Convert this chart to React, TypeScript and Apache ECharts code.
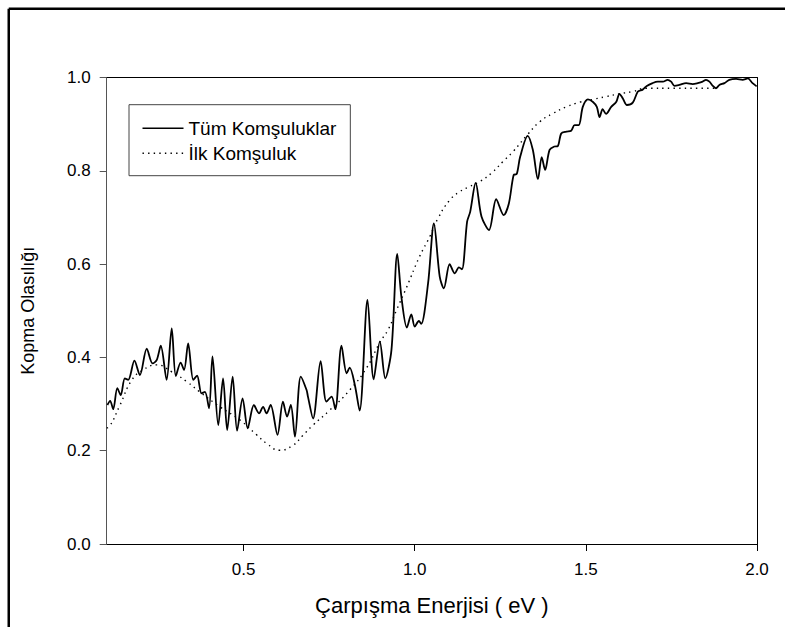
import React, { useEffect, useRef } from "react";
import * as echarts from "echarts";

const xTicks = [0.5, 1.0, 1.5, 2.0];
const yTicks = [0, 0.2, 0.4, 0.6, 0.8, 1.0];

const tumKomsuluklar: [number, number][] = [
  [0.102, 0.298], [0.110, 0.307], [0.119, 0.289], [0.131, 0.334], [0.141, 0.319],
  [0.153, 0.355], [0.163, 0.352], [0.181, 0.393], [0.197, 0.362], [0.217, 0.419],
  [0.234, 0.387], [0.246, 0.394], [0.258, 0.425], [0.275, 0.352], [0.290, 0.462],
  [0.302, 0.360], [0.316, 0.389], [0.326, 0.373], [0.338, 0.430], [0.353, 0.352],
  [0.364, 0.361], [0.377, 0.323], [0.387, 0.326], [0.399, 0.291], [0.409, 0.402],
  [0.426, 0.255], [0.440, 0.355], [0.452, 0.244], [0.468, 0.359], [0.481, 0.243],
  [0.497, 0.312], [0.512, 0.248], [0.530, 0.298], [0.545, 0.280], [0.557, 0.294],
  [0.567, 0.280], [0.579, 0.298], [0.599, 0.234], [0.615, 0.305], [0.627, 0.273],
  [0.638, 0.298], [0.650, 0.230], [0.667, 0.359], [0.684, 0.330], [0.688, 0.316],
  [0.703, 0.269], [0.725, 0.392], [0.742, 0.305], [0.757, 0.316], [0.768, 0.289],
  [0.786, 0.425], [0.801, 0.366], [0.810, 0.378], [0.825, 0.341], [0.839, 0.286],
  [0.862, 0.523], [0.880, 0.353], [0.898, 0.434], [0.914, 0.355], [0.932, 0.416],
  [0.949, 0.622], [0.961, 0.530], [0.977, 0.464], [0.990, 0.492], [1.000, 0.466],
  [1.012, 0.478], [1.019, 0.472], [1.039, 0.559], [1.056, 0.687], [1.073, 0.573],
  [1.085, 0.548], [1.102, 0.600], [1.117, 0.580], [1.129, 0.593], [1.138, 0.589],
  [1.153, 0.691], [1.162, 0.712], [1.178, 0.774], [1.195, 0.702], [1.217, 0.673],
  [1.238, 0.739], [1.260, 0.705], [1.275, 0.730], [1.289, 0.791], [1.298, 0.793],
  [1.308, 0.830], [1.330, 0.875], [1.345, 0.845], [1.360, 0.782], [1.371, 0.829],
  [1.381, 0.802], [1.394, 0.845], [1.408, 0.852], [1.418, 0.853], [1.428, 0.880],
  [1.443, 0.884], [1.457, 0.886], [1.467, 0.898], [1.479, 0.898], [1.491, 0.937],
  [1.506, 0.953], [1.520, 0.948], [1.532, 0.937], [1.540, 0.915], [1.549, 0.932],
  [1.559, 0.922], [1.574, 0.937], [1.589, 0.948], [1.598, 0.965], [1.608, 0.955],
  [1.620, 0.941], [1.637, 0.946], [1.652, 0.970], [1.666, 0.974], [1.678, 0.982],
  [1.695, 0.988], [1.710, 0.991], [1.725, 0.991], [1.739, 0.995], [1.749, 0.991],
  [1.759, 0.982], [1.773, 0.984], [1.793, 0.988], [1.812, 0.986], [1.827, 0.988],
  [1.841, 0.991], [1.851, 0.995], [1.861, 0.991], [1.871, 0.982], [1.880, 0.977],
  [1.890, 0.984], [1.905, 0.988], [1.919, 0.995], [1.939, 0.997], [1.958, 0.995],
  [1.973, 0.998], [1.987, 0.988], [1.999, 0.981],
];

const ilkKomsuluk: [number, number][] = [
  [0.100, 0.249], [0.107, 0.251], [0.139, 0.298], [0.173, 0.351], [0.206, 0.373],
  [0.246, 0.384], [0.290, 0.369], [0.334, 0.348], [0.372, 0.326], [0.431, 0.294],
  [0.489, 0.266], [0.538, 0.234], [0.567, 0.216], [0.605, 0.201], [0.645, 0.212],
  [0.672, 0.232], [0.703, 0.255], [0.752, 0.287], [0.810, 0.330], [0.859, 0.377],
  [0.898, 0.432], [0.922, 0.459], [0.946, 0.500], [0.976, 0.550], [1.014, 0.616],
  [1.044, 0.659], [1.068, 0.698], [1.102, 0.737], [1.131, 0.755], [1.160, 0.766],
  [1.190, 0.777], [1.224, 0.795], [1.258, 0.820], [1.287, 0.841], [1.330, 0.878],
  [1.365, 0.905], [1.404, 0.923], [1.443, 0.937], [1.482, 0.947], [1.520, 0.953],
  [1.559, 0.959], [1.598, 0.965], [1.637, 0.970], [1.676, 0.977], [1.754, 0.977],
  [1.880, 0.977],
];

const seriesNames = ["Tüm Komşuluklar", "İlk Komşuluk"];
const xTitle = "Çarpışma Enerjisi ( eV )";
const yTitle = "Kopma Olasılığı";

const FONT = "'Liberation Sans', Arial, sans-serif";

export default function App() {
  const ref = useRef<HTMLDivElement>(null);
  useEffect(() => {
    if (!ref.current) return;
    const chart = echarts.init(ref.current, null, { renderer: "svg" });
    const dotted = [1.4, 4.2];
    chart.setOption({
      animation: false,
      backgroundColor: "#fff",
      textStyle: { fontFamily: FONT },
      grid: { left: 106.7, top: 77.5, right: 28, bottom: 83 },
      legend: {
        orient: "vertical",
        left: 129,
        top: 104.7,
        padding: [14, 14, 13, 12.7],
        itemWidth: 41,
        itemHeight: 14,
        itemGap: 6,
        borderColor: "#444",
        borderWidth: 1,
        borderRadius: 0,
        backgroundColor: "#fff",
        itemStyle: { opacity: 0 },
        textStyle: { fontFamily: FONT, fontSize: 19, color: "#000", lineHeight: 18 },
        data: [
          { name: seriesNames[0], itemStyle: { opacity: 0 }, lineStyle: { width: 1.6, color: "#000" } },
          { name: seriesNames[1], itemStyle: { opacity: 0 }, lineStyle: { width: 1.4, color: "#000", type: dotted } },
        ],
      },
      xAxis: [
        {
          type: "value",
          min: 0.1,
          max: 2.0,
          position: "bottom",
          name: xTitle,
          nameLocation: "middle",
          nameGap: 50,
          nameTextStyle: { fontFamily: FONT, fontSize: 22, color: "#000" },
          axisLine: { show: true, onZero: false, lineStyle: { color: "#000", width: 1 } },
          axisTick: { show: true, inside: false, length: 7, customValues: xTicks, lineStyle: { color: "#000" } },
          axisLabel: {
            show: true,
            margin: 17,
            customValues: xTicks,
            formatter: (v: number) => v.toFixed(1),
            fontFamily: FONT,
            fontSize: 17,
            color: "#000",
          },
          splitLine: { show: false },
        },
        {
          type: "value",
          min: 0.1,
          max: 2.0,
          position: "top",
          axisLine: { show: true, onZero: false, lineStyle: { color: "#000", width: 1 } },
          axisTick: { show: false },
          axisLabel: { show: false },
          splitLine: { show: false },
        },
      ],
      yAxis: [
        {
          type: "value",
          min: 0,
          max: 1.0,
          interval: 0.2,
          position: "left",
          name: yTitle,
          nameLocation: "middle",
          nameGap: 70,
          nameTextStyle: { fontFamily: FONT, fontSize: 18, color: "#000" },
          axisLine: { show: true, onZero: false, lineStyle: { color: "#555", width: 1 } },
          axisTick: { show: true, inside: false, length: 7, lineStyle: { color: "#555" } },
          axisLabel: {
            show: true,
            margin: 16,
            formatter: (v: number) => v.toFixed(1),
            fontFamily: FONT,
            fontSize: 17,
            color: "#000",
          },
          splitLine: { show: false },
        },
        {
          type: "value",
          min: 0,
          max: 1.0,
          position: "right",
          axisLine: { show: true, onZero: false, lineStyle: { color: "#000", width: 1 } },
          axisTick: { show: false },
          axisLabel: { show: false },
          splitLine: { show: false },
        },
      ],
      graphic: [
        { type: "line", shape: { x1: 8.75, y1: 8.75, x2: 790, y2: 8.75 }, style: { stroke: "#000", lineWidth: 2.5 } },
        { type: "line", shape: { x1: 8.75, y1: 8.75, x2: 8.75, y2: 630 }, style: { stroke: "#000", lineWidth: 2.5 } },
      ],
      series: [
        {
          name: seriesNames[0],
          type: "line",
          data: tumKomsuluklar,
          showSymbol: false,
          symbol: "none",
          smooth: 0.3,
          lineStyle: { color: "#000", width: 1.8 },
          itemStyle: { color: "#000" },
          z: 3,
        },
        {
          name: seriesNames[1],
          type: "line",
          data: ilkKomsuluk,
          showSymbol: false,
          symbol: "none",
          smooth: 0.5,
          lineStyle: { color: "#000", width: 1.4, type: dotted },
          itemStyle: { color: "#000" },
          z: 2,
        },
      ],
    });
    return () => chart.dispose();
  }, []);
  return (
    <div
      ref={ref}
      style={{ position: "absolute", left: 0, top: 0, width: 785, height: 627, background: "#fff" }}
    />
  );
}
